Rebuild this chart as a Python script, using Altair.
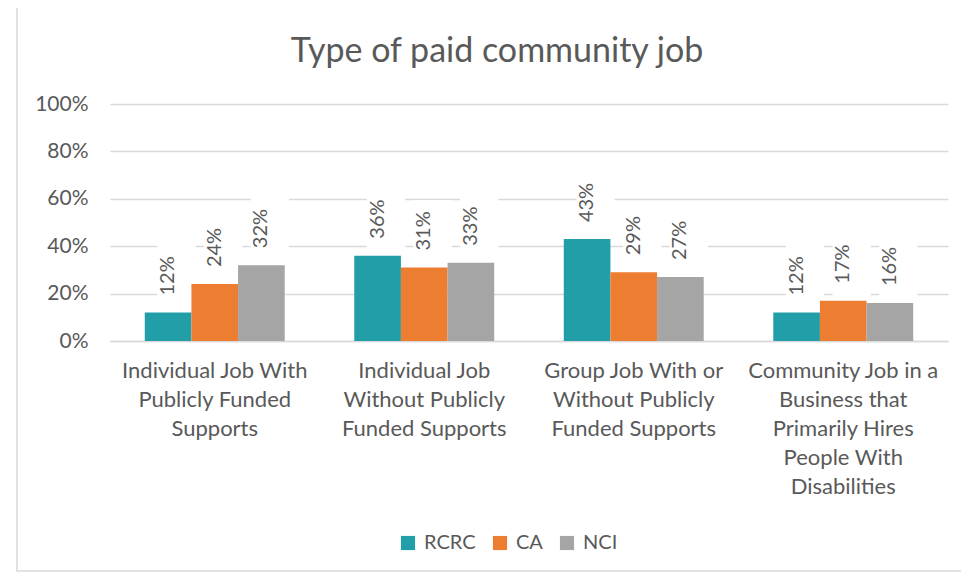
import json
import altair as alt
import pandas as pd

categories = [
    "Individual Job With Publicly Funded Supports",
    "Individual Job Without Publicly Funded Supports",
    "Group Job With or Without Publicly Funded Supports",
    "Community Job in a Business that Primarily Hires People With Disabilities",
]
category_lines = [
    ["Individual Job With", "Publicly Funded", "Supports"],
    ["Individual Job", "Without Publicly", "Funded Supports"],
    ["Group Job With or", "Without Publicly", "Funded Supports"],
    ["Community Job in a", "Business that", "Primarily Hires", "People With", "Disabilities"],
]
series = ["RCRC", "CA", "NCI"]
rcrc = [0.12, 0.36, 0.43, 0.12]
ca = [0.24, 0.31, 0.29, 0.17]
nci = [0.32, 0.33, 0.27, 0.16]
colors = ["#219EA8", "#ED7D31", "#A5A5A5"]
y_ticks = [0, 0.2, 0.4, 0.6, 0.8, 1.0]
title_text = "Type of paid community job"

rows = []
for s, vals in zip(series, [rcrc, ca, nci]):
    for c, v in zip(categories, vals):
        rows.append({"category": c, "series": s, "value": v})
df = pd.DataFrame(rows)

FONT = "Lato"
TXT = "#595959"
GRID = "#D9D9D9"

label_expr = json.dumps(dict(zip(categories, category_lines))) + "[datum.value]"

x_enc = alt.X(
    "category:N", sort=categories,
    scale=alt.Scale(paddingInner=0.332, paddingOuter=0.166),
    axis=alt.Axis(title=None, labelExpr=label_expr, labelAngle=0, labelAlign="center",
                  labelBaseline="top", labelFont=FONT,
                  labelFontSize=22, labelColor=TXT, labelLineHeight=29, labelPadding=19,
                  domainColor=GRID, domainWidth=1.5, ticks=False, labelLimit=400),
)
xoff_enc = alt.XOffset("series:N", sort=series, scale=alt.Scale(paddingInner=0, paddingOuter=0))
y_scale = alt.Scale(domain=[0, 1])

bars = alt.Chart(df).mark_bar().encode(
    x=x_enc,
    xOffset=xoff_enc,
    y=alt.Y("value:Q", scale=y_scale,
            axis=alt.Axis(values=y_ticks, format=".0%", title=None, domain=False, ticks=False,
                          labelFont=FONT, labelFontSize=21, labelColor=TXT, labelPadding=22,
                          gridColor=GRID, gridWidth=1.5)),
    color=alt.Color("series:N", sort=series,
                    scale=alt.Scale(domain=series, range=colors),
                    legend=alt.Legend(title=None, orient="none", legendX=288, legendY=429,
                                      direction="horizontal", symbolType="square",
                                      symbolSize=200, symbolStrokeWidth=0,
                                      labelFont=FONT, labelFontSize=20, labelColor=TXT,
                                      columnPadding=14, labelOffset=6)),
)

boxes = alt.Chart(df).mark_bar(color="white", width={"band": 0.82}).transform_calculate(
    lo="datum.value + 0.01", hi="datum.value + 0.285"
).encode(
    x=alt.X("category:N", sort=categories),
    xOffset=alt.XOffset("series:N", sort=series),
    y=alt.Y("lo:Q", scale=y_scale),
    y2="hi:Q",
)

labels = alt.Chart(df).mark_text(
    angle=270, align="left", baseline="middle", dx=17,
    font=FONT, fontSize=20, color=TXT,
).encode(
    x=alt.X("category:N", sort=categories),
    xOffset=alt.XOffset("series:N", sort=series),
    y=alt.Y("value:Q", scale=y_scale),
    text=alt.Text("value:Q", format=".0%"),
)

border = alt.Chart(pd.DataFrame({"a": [0]})).mark_rect(
    fill="white", fillOpacity=0, stroke=GRID, strokeWidth=1.5
).encode(
    x=alt.value(-93), x2=alt.value(880), y=alt.value(-99), y2=alt.value(467),
)

title = alt.Chart(pd.DataFrame({"t": [title_text]})).mark_text(
    font=FONT, fontSize=34, color=TXT, align="center", baseline="middle"
).encode(
    text="t:N", x=alt.value(387), y=alt.value(-52),
)

chart = alt.layer(border, boxes, bars, labels, title).properties(
    width=838, height=237,
    padding={"left": 102, "top": 96, "right": 13, "bottom": 232},
    autosize=alt.AutoSizeParams(type="none"),
).configure(background="white").configure_view(strokeWidth=0)

chart.save("out.html", embed_options={"renderer": "svg", "actions": False})
